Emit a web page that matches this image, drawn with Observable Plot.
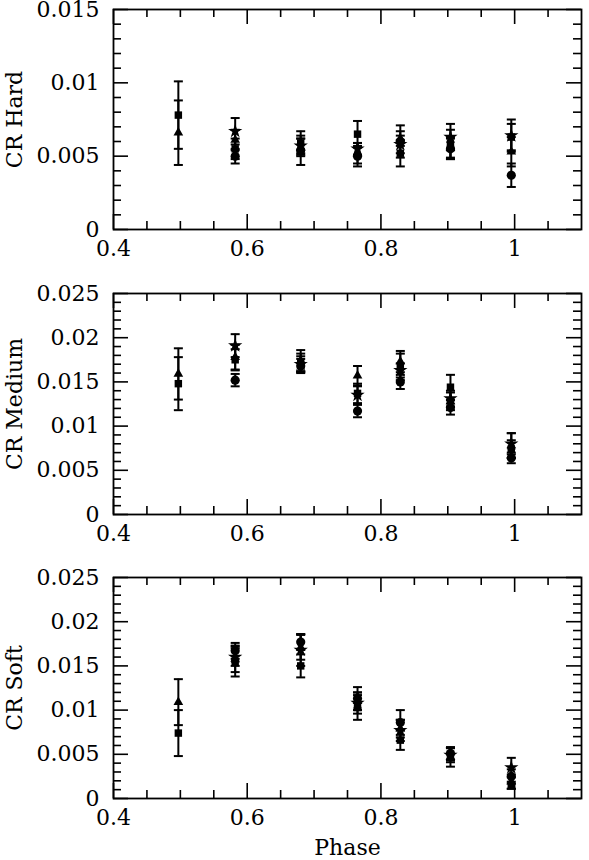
<!DOCTYPE html>
<html>
<head>
<meta charset="utf-8">
<script src="https://cdn.jsdelivr.net/npm/d3@7"></script>
<script src="https://cdn.jsdelivr.net/npm/@observablehq/plot@0.6"></script>
<style>
  html, body { margin: 0; padding: 0; background: #fff; }
  #wrap { position: relative; width: 589px; height: 860px; }
  #wrap svg { position: absolute; left: 0; display: block; }
</style>
</head>
<body>
<div id="wrap"></div>
<script>
// ---- data ----
const phase = [0.497, 0.582, 0.680, 0.765, 0.829, 0.904, 0.995];
const seriesNames = ["circle", "square", "triangle", "star"];

// Hard band
const hardCircle   = [null,   0.0050, 0.0054, 0.0050, 0.0060, 0.0055, 0.0037];
const hardCircleE  = [null,   0.0005, 0.0010, 0.0007, 0.0011, 0.0007, 0.0008];
const hardSquare   = [0.0078, 0.0055, 0.0059, 0.0065, 0.0052, 0.0058, 0.0063];
const hardSquareE  = [0.0023, 0.0007, 0.0008, 0.0009, 0.0009, 0.0010, 0.0009];
const hardTri      = [0.0066, 0.0061, 0.0056, 0.0052, 0.0062, 0.0056, 0.0053];
const hardTriE     = [0.0022, 0.0007, 0.0006, 0.0007, 0.0005, 0.0007, 0.0010];
const hardStar     = [null,   0.0067, 0.0057, 0.0055, 0.0058, 0.0063, 0.0064];
const hardStarE    = [null,   0.0009, 0.0005, 0.0004, 0.0006, 0.0009, 0.0011];

// Medium band
const medCircle    = [null,   0.0152, 0.0168, 0.0117, 0.0150, 0.0121, 0.0064];
const medCircleE   = [null,   0.0007, 0.0008, 0.0007, 0.0008, 0.0008, 0.0006];
const medSquare    = [0.0148, 0.0175, 0.0172, 0.0137, 0.0167, 0.0144, 0.0074];
const medSquareE   = [0.0030, 0.0012, 0.0010, 0.0011, 0.0015, 0.0014, 0.0010];
const medTri       = [0.0159, 0.0178, 0.0174, 0.0157, 0.0173, 0.0128, 0.0078];
const medTriE      = [0.0029, 0.0014, 0.0012, 0.0011, 0.0012, 0.0010, 0.0014];
const medStar      = [null,   0.0191, 0.0170, 0.0135, 0.0163, 0.0131, 0.0080];
const medStarE     = [null,   0.0013, 0.0009, 0.0010, 0.0008, 0.0009, 0.0012];

// Soft band
const softCircle   = [null,   0.0167, 0.0177, 0.0113, 0.0086, 0.0051, 0.0025];
const softCircleE  = [null,   0.0009, 0.0009, 0.0013, 0.0014, 0.0007, 0.0008];
const softSquare   = [0.0074, 0.0155, 0.0150, 0.0103, 0.0066, 0.0050, 0.0015];
const softSquareE  = [0.0026, 0.0017, 0.0013, 0.0014, 0.0011, 0.0007, 0.0004];
const softTri      = [0.0109, 0.0158, 0.0171, 0.0110, 0.0079, 0.0047, 0.0019];
const softTriE     = [0.0026, 0.0015, 0.0014, 0.0010, 0.0010, 0.0011, 0.0008];
const softStar     = [null,   0.0160, 0.0168, 0.0108, 0.0077, 0.0049, 0.0035];
const softStarE    = [null,   0.0010, 0.0018, 0.0012, 0.0012, 0.0008, 0.0011];

// axes
const xDomain = [0.4, 1.1];
const xMajorTicks = [0.4, 0.6, 0.8, 1.0];
const xMinorTicks = [0.45, 0.5, 0.55, 0.65, 0.7, 0.75, 0.85, 0.9, 0.95, 1.05];
const hardYTicks = [0, 0.005, 0.01, 0.015];
const medYTicks  = [0, 0.005, 0.01, 0.015, 0.02, 0.025];
const softYTicks = [0, 0.005, 0.01, 0.015, 0.02, 0.025];
const panelLabels = ["CR Hard", "CR Medium", "CR Soft"];
const xLabel = "Phase";

// ---- build ----
function rows(vals) {
  const out = [];
  vals.forEach(([name, v, e]) => {
    phase.forEach((p, i) => {
      if (v[i] != null) out.push({phase: p, v: v[i], e: e[i], series: name});
    });
  });
  return out;
}

const capSymbol = {
  draw(context, size) {
    const w = Math.sqrt(size / Math.PI);
    context.moveTo(-w, 0);
    context.lineTo(w, 0);
  }
};
const symbolMap = {circle: "circle", square: "square", triangle: "triangle", star: "star"};
const symbolR = {circle: 4.6, square: 4.2, triangle: 3.6, star: 4.5};

const W = 589, ML = 113, MR = 8;
const innerW = W - ML - MR;

function minorY(max, majors) {
  const out = [];
  for (let k = 0; k <= Math.round(max * 1000); k++) {
    const v = k / 1000;
    if (!majors.some(m => Math.abs(m - v) < 1e-9)) out.push(v);
  }
  return out;
}

function panel({data, yMax, yTicks, label, top, height, mt, mb, showXLabel}) {
  const innerH = height - mt - mb;
  const yMinor = minorY(yMax, yTicks);
  const majL = 15, minL = 8;
  const sw = 1.6;
  const marks = [
    Plot.tickX(xMajorTicks, {x: d => d, insetTop: innerH - majL, strokeWidth: sw}),
    Plot.tickX(xMinorTicks, {x: d => d, insetTop: innerH - minL, strokeWidth: sw}),
    Plot.tickX(xMajorTicks, {x: d => d, insetBottom: innerH - majL, strokeWidth: sw}),
    Plot.tickX(xMinorTicks, {x: d => d, insetBottom: innerH - minL, strokeWidth: sw}),
    Plot.tickY(yTicks, {y: d => d, insetRight: innerW - majL, strokeWidth: sw}),
    Plot.tickY(yMinor, {y: d => d, insetRight: innerW - minL, strokeWidth: sw}),
    Plot.tickY(yTicks, {y: d => d, insetLeft: innerW - majL, strokeWidth: sw}),
    Plot.tickY(yMinor, {y: d => d, insetLeft: innerW - minL, strokeWidth: sw}),
    Plot.axisX({ticks: xMajorTicks, tickSize: 0, tickPadding: 11, tickFormat: d => String(d), label: null}),
    Plot.axisY({ticks: yTicks, tickSize: 0, tickPadding: 14, tickFormat: d => String(d), label: null}),
    Plot.frame({strokeWidth: 1.8}),
    Plot.ruleX(data, {x: "phase", y1: d => d.v - d.e, y2: d => d.v + d.e, strokeWidth: 2, stroke: "black"}),
    Plot.dot(data, {x: "phase", y: d => d.v + d.e, symbol: capSymbol, r: 4.5, stroke: "black", fill: "none", strokeWidth: 2}),
    Plot.dot(data, {x: "phase", y: d => d.v - d.e, symbol: capSymbol, r: 4.5, stroke: "black", fill: "none", strokeWidth: 2}),
    ...seriesNames.map(s => Plot.dot(data.filter(d => d.series === s), {
      x: "phase", y: "v", symbol: symbolMap[s], r: symbolR[s], fill: "black", stroke: "none"
    })),
    Plot.text([label], {text: d => d, frameAnchor: "left", dx: -99, rotate: -90, textAnchor: "middle", lineAnchor: "middle"})
  ];
  if (showXLabel) {
    marks.push(Plot.text([xLabel], {text: d => d, frameAnchor: "bottom", dy: 49, textAnchor: "middle", lineAnchor: "middle"}));
  }
  const svg = Plot.plot({
    width: W, height,
    marginLeft: ML, marginRight: MR, marginTop: mt, marginBottom: mb,
    x: {domain: xDomain},
    y: {domain: [0, yMax]},
    style: {fontFamily: "'DejaVu Serif', serif", fontSize: "22px", color: "black", background: "white", overflow: "visible"},
    marks
  });
  svg.style.top = top + "px";
  document.getElementById("wrap").appendChild(svg);
}

panel({
  data: rows([["circle", hardCircle, hardCircleE], ["square", hardSquare, hardSquareE], ["triangle", hardTri, hardTriE], ["star", hardStar, hardStarE]]),
  yMax: 0.015, yTicks: hardYTicks, label: panelLabels[0], top: 0, height: 284, mt: 9, mb: 55
});
panel({
  data: rows([["circle", medCircle, medCircleE], ["square", medSquare, medSquareE], ["triangle", medTri, medTriE], ["star", medStar, medStarE]]),
  yMax: 0.025, yTicks: medYTicks, label: panelLabels[1], top: 284, height: 285, mt: 9, mb: 55
});
panel({
  data: rows([["circle", softCircle, softCircleE], ["square", softSquare, softSquareE], ["triangle", softTri, softTriE], ["star", softStar, softStarE]]),
  yMax: 0.025, yTicks: softYTicks, label: panelLabels[2], top: 569, height: 291, mt: 8, mb: 62, showXLabel: true
});
</script>
</body>
</html>
